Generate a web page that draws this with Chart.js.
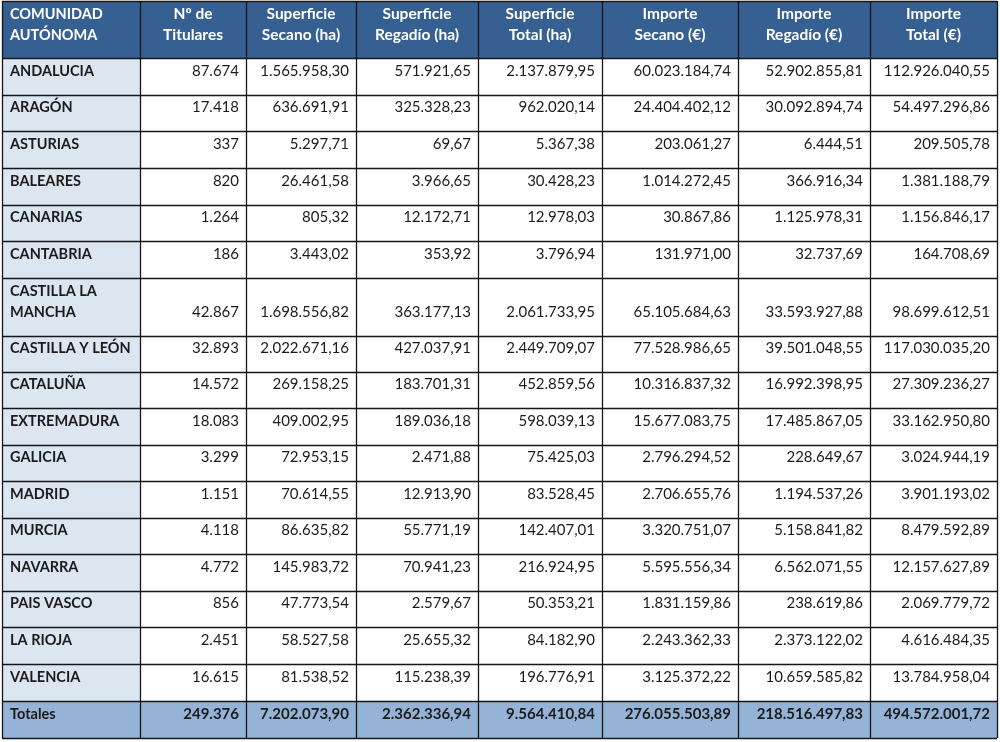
<!DOCTYPE html>
<html>
<head>
<meta charset="utf-8">
<script src="https://cdn.jsdelivr.net/npm/chart.js@4.4.1/dist/chart.umd.min.js"></script>
<style>
  html, body { margin: 0; padding: 0; background: #fff; }
  canvas { display: block; }
</style>
</head>
<body>
<canvas id="tabla" width="1000" height="742"></canvas>
<script>
const comunidades = ['ANDALUCIA', 'ARAGÓN', 'ASTURIAS', 'BALEARES', 'CANARIAS', 'CANTABRIA',
  'CASTILLA LA MANCHA', 'CASTILLA Y LEÓN', 'CATALUÑA', 'EXTREMADURA', 'GALICIA', 'MADRID',
  'MURCIA', 'NAVARRA', 'PAIS VASCO', 'LA RIOJA', 'VALENCIA'];

const titulares = [87674, 17418, 337, 820, 1264, 186, 42867, 32893, 14572, 18083, 3299, 1151,
  4118, 4772, 856, 2451, 16615];
const supSecano = [1565958.30, 636691.91, 5297.71, 26461.58, 805.32, 3443.02, 1698556.82,
  2022671.16, 269158.25, 409002.95, 72953.15, 70614.55, 86635.82, 145983.72, 47773.54,
  58527.58, 81538.52];
const supRegadio = [571921.65, 325328.23, 69.67, 3966.65, 12172.71, 353.92, 363177.13,
  427037.91, 183701.31, 189036.18, 2471.88, 12913.90, 55771.19, 70941.23, 2579.67,
  25655.32, 115238.39];
const supTotal = [2137879.95, 962020.14, 5367.38, 30428.23, 12978.03, 3796.94, 2061733.95,
  2449709.07, 452859.56, 598039.13, 75425.03, 83528.45, 142407.01, 216924.95, 50353.21,
  84182.90, 196776.91];
const impSecano = [60023184.74, 24404402.12, 203061.27, 1014272.45, 30867.86, 131971.00,
  65105684.63, 77528986.65, 10316837.32, 15677083.75, 2796294.52, 2706655.76, 3320751.07,
  5595556.34, 1831159.86, 2243362.33, 3125372.22];
const impRegadio = [52902855.81, 30092894.74, 6444.51, 366916.34, 1125978.31, 32737.69,
  33593927.88, 39501048.55, 16992398.95, 17485867.05, 228649.67, 1194537.26, 5158841.82,
  6562071.55, 238619.86, 2373122.02, 10659585.82];
const impTotal = [112926040.55, 54497296.86, 209505.78, 1381188.79, 1156846.17, 164708.69,
  98699612.51, 117030035.20, 27309236.27, 33162950.80, 3024944.19, 3901193.02, 8479592.89,
  12157627.89, 2069779.72, 4616484.35, 13784958.04];

const totales = [249376, 7202073.90, 2362336.94, 9564410.84, 276055503.89, 218516497.83, 494572001.72];

const cabeceras = [
  ['COMUNIDAD', 'AUTÓNOMA'],
  ['Nº de', 'Titulares'],
  ['Superficie', 'Secano (ha)'],
  ['Superficie', 'Regadío (ha)'],
  ['Superficie', 'Total (ha)'],
  ['Importe', 'Secano (€)'],
  ['Importe', 'Regadío (€)'],
  ['Importe', 'Total (€)']
];

const columnas = [titulares, supSecano, supRegadio, supTotal, impSecano, impRegadio, impTotal];
const decimales = [0, 2, 2, 2, 2, 2, 2];

// layout of the grid, in scale units
const colEdges = [2, 140, 246, 356, 478, 602, 738, 870, 997];
const rowEdges = [1, 58, 95, 131, 168, 205, 241, 278, 336, 372, 408, 445, 481, 518, 554, 591, 627, 664, 701, 738];

const FONT = 'Lato, "Open Sans", sans-serif';

function fmt(v, dec) {
  const parts = v.toFixed(dec).split('.');
  const ent = parts[0].replace(/\B(?=(\d{3})+(?!\d))/g, '.');
  return parts[1] ? ent + ',' + parts[1] : ent;
}

function wrap(ctx, text, maxW) {
  const words = text.split(' ');
  const lines = [];
  let cur = '';
  words.forEach(w => {
    const test = cur ? cur + ' ' + w : w;
    if (cur && ctx.measureText(test).width > maxW) {
      lines.push(cur);
      cur = w;
    } else {
      cur = test;
    }
  });
  lines.push(cur);
  return lines;
}

const tablePlugin = {
  id: 'tablaCeldas',
  afterDraw(chart) {
    const { ctx, scales: { x, y } } = chart;
    const X = v => x.getPixelForValue(v);
    const Y = v => y.getPixelForValue(v);
    const nRows = rowEdges.length - 1;
    const last = nRows - 1;

    ctx.save();

    // cell backgrounds
    for (let r = 0; r < nRows; r++) {
      for (let c = 0; c < colEdges.length - 1; c++) {
        let bg = '#ffffff';
        if (r === 0) bg = '#366092';
        else if (r === last) bg = '#95b3d7';
        else if (c === 0) bg = '#dce6f1';
        ctx.fillStyle = bg;
        ctx.fillRect(X(colEdges[c]), Y(rowEdges[r]), X(colEdges[c + 1]) - X(colEdges[c]), Y(rowEdges[r + 1]) - Y(rowEdges[r]));
      }
    }

    // grid lines
    ctx.strokeStyle = '#161616';
    ctx.lineWidth = 1.3;
    rowEdges.forEach(e => {
      const py = Math.round(Y(e)) + 0.5;
      ctx.beginPath();
      ctx.moveTo(X(colEdges[0]), py);
      ctx.lineTo(X(colEdges[colEdges.length - 1]), py);
      ctx.stroke();
    });
    colEdges.forEach(e => {
      const px = Math.round(X(e)) + 0.5;
      ctx.beginPath();
      ctx.moveTo(px, Y(rowEdges[0]));
      ctx.lineTo(px, Y(rowEdges[rowEdges.length - 1]));
      ctx.stroke();
    });

    ctx.textBaseline = 'middle';

    // header
    ctx.fillStyle = '#ffffff';
    cabeceras.forEach((lines, c) => {
      const left = X(colEdges[c]), right = X(colEdges[c + 1]);
      ctx.font = 'bold ' + (c === 0 ? '14.5px ' : '15.5px ') + FONT;
      lines.forEach((t, i) => {
        const py = Y(rowEdges[0]) + 13 + i * 21;
        if (c === 0) {
          ctx.textAlign = 'left';
          ctx.fillText(t, left + 8, py);
        } else {
          ctx.textAlign = 'center';
          ctx.fillText(t, (left + right) / 2, py);
        }
      });
    });

    // body rows + totals
    for (let r = 1; r < nRows; r++) {
      const isTotal = r === last;
      const bottom = Y(rowEdges[r + 1]);
      ctx.fillStyle = '#1b1b1b';

      // label
      ctx.font = 'bold 14.5px ' + FONT;
      ctx.textAlign = 'left';
      const label = isTotal ? 'Totales' : comunidades[r - 1];
      const lines = wrap(ctx, label, X(colEdges[1]) - X(colEdges[0]) - 12);
      lines.forEach((t, i) => {
        ctx.fillText(t, X(colEdges[0]) + 8, bottom - 24 - (lines.length - 1 - i) * 21);
      });

      // values
      ctx.font = (isTotal ? 'bold ' : '') + '15px ' + FONT;
      ctx.textAlign = 'right';
      columnas.forEach((serie, c) => {
        const v = isTotal ? totales[c] : serie[r - 1];
        ctx.fillText(fmt(v, decimales[c]), X(colEdges[c + 2]) - 7, bottom - 24);
      });
    }

    ctx.restore();
  }
};

new Chart(document.getElementById('tabla'), {
  type: 'scatter',
  data: {
    datasets: cabeceras.slice(1).map(h => ({
      label: h.join(' '),
      data: [],
      pointRadius: 0
    }))
  },
  options: {
    responsive: false,
    animation: false,
    devicePixelRatio: 1,
    layout: { padding: 0 },
    plugins: { legend: { display: false }, tooltip: { enabled: false } },
    scales: {
      x: { type: 'linear', min: 0, max: 1000, display: false },
      y: { type: 'linear', min: 0, max: 742, reverse: true, display: false }
    }
  },
  plugins: [tablePlugin]
});
</script>
</body>
</html>
